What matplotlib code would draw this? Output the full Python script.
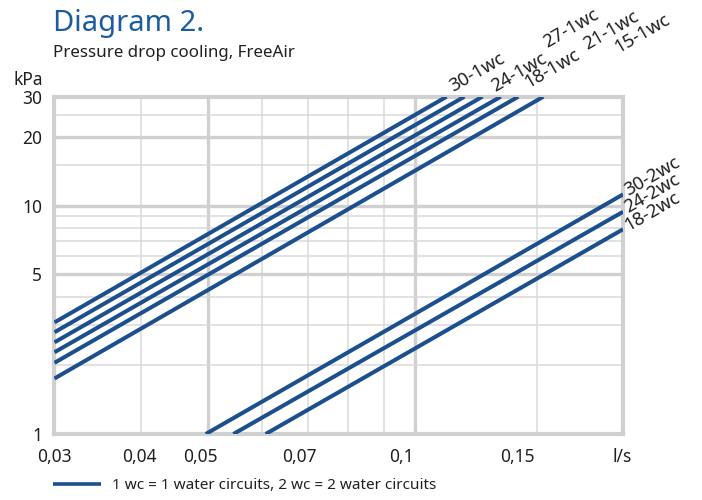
import matplotlib.pyplot as plt
from matplotlib.lines import Line2D
from matplotlib.transforms import ScaledTranslation, blended_transform_factory

# Pressure drop lines, one water circuit: flow (l/s) and kPa at both ends
wc1_names = ["30-1wc", "27-1wc", "24-1wc", "21-1wc", "18-1wc", "15-1wc"]
wc1_flow_start = [0.03, 0.03, 0.03, 0.03, 0.03, 0.03]
wc1_kpa_start = [3.08, 2.79, 2.52, 2.28, 2.05, 1.75]
wc1_flow_end = [0.1110, 0.1178, 0.1251, 0.1330, 0.1410, 0.1533]
wc1_kpa_end = [30, 30, 30, 30, 30, 30]

# Two water circuits
wc2_names = ["30-2wc", "24-2wc", "18-2wc"]
wc2_flow_start = [0.0497, 0.0545, 0.0607]
wc2_kpa_start = [1, 1, 1]
wc2_flow_end = [0.2, 0.2, 0.2]
wc2_kpa_end = [11.2, 9.4, 7.88]

x_ticks = [0.03, 0.04, 0.05, 0.07, 0.1, 0.15, 0.2]
x_tick_labels = ["0,03", "0,04", "0,05", "0,07", "0,1", "0,15", "l/s"]
y_ticks = [1, 5, 10, 20, 30]
y_tick_labels = ["1", "5", "10", "20", "30"]

x_major_grid = [0.05, 0.1]
x_minor_grid = [0.04, 0.06, 0.07, 0.08, 0.09, 0.15]
y_major_grid = [5, 10, 20]
y_minor_grid = [2, 3, 4, 6, 7, 8, 9, 15, 25]

LINE = "#1b4f8d"
BLUE = "#1a5c9e"
INK = "#231f20"
GRID = "#d0d0d0"
GRID_LIGHT = "#dadada"
SANS = ["Noto Sans", "DejaVu Sans"]

fig = plt.figure(figsize=(7.02, 5.0), dpi=100)
ax = fig.add_axes([0.0776, 0.132, 0.8099, 0.6746])
ax.set_xscale("log")
ax.set_yscale("log")
ax.set_xlim(0.03, 0.2)
ax.set_ylim(1, 30)

# grid drawn by hand so heavy and light lines can differ
for x in x_minor_grid:
    ax.axvline(x, color=GRID_LIGHT, lw=1.1, zorder=1)
for x in x_major_grid:
    ax.axvline(x, color=GRID, lw=2.4, zorder=1)
for y in y_minor_grid:
    ax.axhline(y, color=GRID_LIGHT, lw=1.1, zorder=1)
for y in y_major_grid:
    ax.axhline(y, color=GRID, lw=2.4, zorder=1)

for spine in ax.spines.values():
    spine.set_color(GRID)
    spine.set_linewidth(3)

ax.minorticks_off()
ax.tick_params(length=0)
ax.set_xticks([])
ax.set_yticks(y_ticks)
ax.set_yticklabels(y_tick_labels, family=SANS, fontsize=12.5, color=INK)
ax.tick_params(axis="y", pad=9)

# x labels sit a little left of their grid lines
x_label_shift = [0, -1, -7, -9, -14, -19, -1]
xtrans = blended_transform_factory(ax.transData, ax.transAxes)
for x, lab, dx in zip(x_ticks, x_tick_labels, x_label_shift):
    off = ScaledTranslation(dx / 100, -27.7 / 100, fig.dpi_scale_trans)
    ax.text(x, 0, lab, transform=xtrans + off, ha="center", va="baseline",
            family=SANS, fontsize=12.5, color=INK, clip_on=False)

# offsets (pixels) from each line end to the start of its label
wc1_label_offset = [(6.6, 5), (83, 48.5), (12.7, 5), (86, 46.7), (10, 8.4), (75, 43.4)]
for i, name in enumerate(wc1_names):
    ax.plot([wc1_flow_start[i], wc1_flow_end[i]], [wc1_kpa_start[i], wc1_kpa_end[i]],
            color=LINE, lw=2.9, solid_capstyle="butt", zorder=3)
    ax.annotate(name, (wc1_flow_end[i], wc1_kpa_end[i]), xytext=wc1_label_offset[i],
                textcoords="offset pixels", rotation=30, rotation_mode="anchor",
                ha="left", va="baseline", family=SANS, fontsize=13.3, color=INK,
                annotation_clip=False)

for i, name in enumerate(wc2_names):
    ax.plot([wc2_flow_start[i], wc2_flow_end[i]], [wc2_kpa_start[i], wc2_kpa_end[i]],
            color=LINE, lw=2.9, solid_capstyle="butt", zorder=3)
    ax.annotate(name, (wc2_flow_end[i], wc2_kpa_end[i]), xytext=(5, -1.7),
                textcoords="offset pixels", rotation=30, rotation_mode="anchor",
                ha="left", va="baseline", family=SANS, fontsize=13.3, color=INK,
                annotation_clip=False)

fig.text(53 / 702, 1 - 31 / 500, "Diagram 2.", ha="left", va="baseline",
         family=SANS, fontsize=21, color=BLUE)
fig.text(53 / 702, 1 - 56.7 / 500, "Pressure drop cooling, FreeAir", ha="left",
         va="baseline", family=SANS, fontsize=12.2, color=INK)
fig.text(42.7 / 702, 1 - 85 / 500, "kPa", ha="right", va="baseline",
         family=SANS, fontsize=12.5, color=INK)

handle = Line2D([], [], color=LINE, lw=2.6, solid_capstyle="butt")
fig.legend([handle], ["1 wc = 1 water circuits, 2 wc = 2 water circuits"],
           loc="center left", bbox_to_anchor=(53 / 702, 1 - 485.5 / 500),
           frameon=False, handlelength=3.17, handletextpad=0.72, borderpad=0,
           borderaxespad=0, prop={"family": SANS, "size": 11}, labelcolor=INK)

fig.savefig("out.png", dpi=100)
